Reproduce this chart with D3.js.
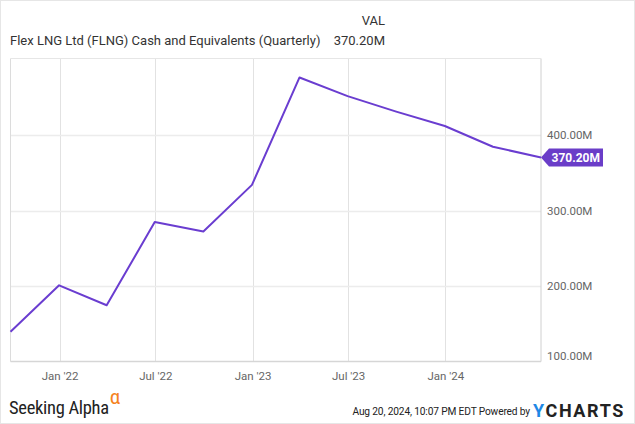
<!DOCTYPE html>
<html><head><meta charset="utf-8">
<script src="https://cdn.jsdelivr.net/npm/d3@7"></script>
<style>body{margin:0;background:#fff;font-family:Roboto,"Noto Sans",sans-serif}</style>
</head><body>
<script>
const dates = ["2021-09-30","2021-12-31","2022-03-31","2022-06-30","2022-09-30","2022-12-31","2023-03-31","2023-06-30","2023-09-30","2023-12-31","2024-03-31","2024-06-30"];
const cashValues = [139.5, 201.0, 174.6, 284.7, 272.3, 334.0, 476.2, 451.5, 431.0, 411.9, 384.5, 370.2];
const yTicks = [100, 200, 300, 400];
const xTicks = ["2022-01-01","2022-07-01","2023-01-01","2023-07-01","2024-01-01"];
const title = "Flex LNG Ltd (FLNG) Cash and Equivalents (Quarterly)";
const lastLabel = "370.20M";

const W = 635, H = 424;
const parse = d3.utcParse("%Y-%m-%d");
const data = dates.map((d,i)=>({date:parse(d), v:cashValues[i]}));
const svg = d3.select("body").append("svg").attr("width",W).attr("height",H);
svg.append("rect").attr("x",0.5).attr("y",0.5).attr("width",W-1).attr("height",H-1).attr("fill","#fff").attr("stroke","#e6e6e6");

const L=10.5, R=541, T=58.5, B=361.6;
const x = d3.scaleUtc().domain([parse("2021-09-30"), parse("2024-06-30")]).range([L,R]);
const y = d3.scaleLinear().domain([100, 501.3]).range([B,T]);

const g = svg.append("g");
g.selectAll(".vg").data(xTicks.map(parse)).join("line")
 .attr("x1",d=>Math.round(x(d))+0.5).attr("x2",d=>Math.round(x(d))+0.5).attr("y1",T).attr("y2",B)
 .attr("stroke","#e2e2e2").attr("stroke-width",1);
g.selectAll(".hg").data(yTicks.filter(t=>t>100)).join("line")
 .attr("x1",L).attr("x2",R).attr("y1",d=>Math.round(y(d))+0.5).attr("y2",d=>Math.round(y(d))+0.5)
 .attr("stroke","#ececec").attr("stroke-width",1.5);
g.append("line").attr("x1",L).attr("x2",L).attr("y1",T).attr("y2",B).attr("stroke","#dcdcdc");
g.append("line").attr("x1",R).attr("x2",R).attr("y1",T).attr("y2",B).attr("stroke","#d0d0d0");
g.append("line").attr("x1",L).attr("x2",R).attr("y1",T).attr("y2",T).attr("stroke","#e6e6e6");
g.append("line").attr("x1",L).attr("x2",R).attr("y1",B).attr("y2",B).attr("stroke","#d6d6d6").attr("stroke-width",1.5);

const xAxis = d3.axisBottom(x).tickValues(xTicks.map(parse)).tickFormat(d=>d3.utcFormat("%b '%y")(d)).tickSize(0).tickPadding(8);
const xa = svg.append("g").attr("transform",`translate(0,${B+2})`).call(xAxis);
xa.select(".domain").remove();
xa.selectAll("text").attr("fill","#666").attr("font-size","11.5px").attr("font-family","Roboto,sans-serif");

const yAxis = d3.axisRight(y).tickValues(yTicks).tickFormat(d=>d3.format(".2f")(d)+"M").tickSize(0).tickPadding(6);
const ya = svg.append("g").attr("transform",`translate(${R},0)`).call(yAxis);
ya.select(".domain").remove();
ya.selectAll("text").attr("fill","#666").attr("font-size","11.5px").attr("font-family","Roboto,sans-serif")
  .attr("dy",d=>d===100?"-0.15em":"0.32em");

const line = d3.line().x(d=>x(d.date)).y(d=>y(d.v));
svg.append("path").datum(data).attr("d",line).attr("fill","none").attr("stroke","#6a3dd0").attr("stroke-width",2).attr("stroke-linejoin","round");

const last = data[data.length-1];
const ty = y(last.v), tx = x(last.date);
const tagW = 62, tagH = 18;
svg.append("path").attr("d",`M${tx},${ty} L${tx+8},${ty-tagH/2} L${tx+tagW},${ty-tagH/2} L${tx+tagW},${ty+tagH/2} L${tx+8},${ty+tagH/2} Z`)
  .attr("fill","#6a3dc8");
svg.append("text").attr("x",tx+tagW-3).attr("y",ty+4.5).attr("text-anchor","end").attr("fill","#fff")
  .attr("font-size","12px").attr("font-weight","bold").attr("font-family","Roboto,sans-serif").text(lastLabel);

svg.append("text").attr("x",10).attr("y",45).attr("font-size","13px").attr("fill","#333").attr("font-family","Roboto,sans-serif").text(title);
svg.append("text").attr("x",385).attr("y",25).attr("text-anchor","end").attr("font-size","13px").attr("fill","#333").attr("font-family","Roboto,sans-serif").text("VAL");
svg.append("text").attr("x",385).attr("y",45).attr("text-anchor","end").attr("font-size","13px").attr("fill","#333").attr("font-family","Roboto,sans-serif").text(lastLabel);

const sa = svg.append("text").attr("x",9).attr("y",414).attr("font-size","18.5px").attr("fill","#222").attr("font-family","'Liberation Sans Narrow','Roboto Condensed',Roboto,sans-serif").attr("letter-spacing","-0.3");
sa.append("tspan").text("Seeking Alpha");
sa.append("tspan").attr("dy",-10).attr("dx",1).attr("fill","#f58220").attr("font-size","21px").text("α");
svg.append("text").attr("x",530).attr("y",415).attr("text-anchor","end").attr("font-size","10.2px").attr("fill","#222").attr("font-family","Roboto,sans-serif").attr("letter-spacing","-0.15").text("Aug 20, 2024, 10:07 PM EDT Powered by");
const yc = svg.append("text").attr("x",533).attr("y",416.5).attr("font-size","18px").attr("font-weight","bold").attr("font-family","Roboto,sans-serif").attr("letter-spacing","1.6");
yc.append("tspan").attr("fill","#1e88e5").text("Y");
yc.append("tspan").attr("fill","#222").text("CHARTS");
</script>
</body></html>
